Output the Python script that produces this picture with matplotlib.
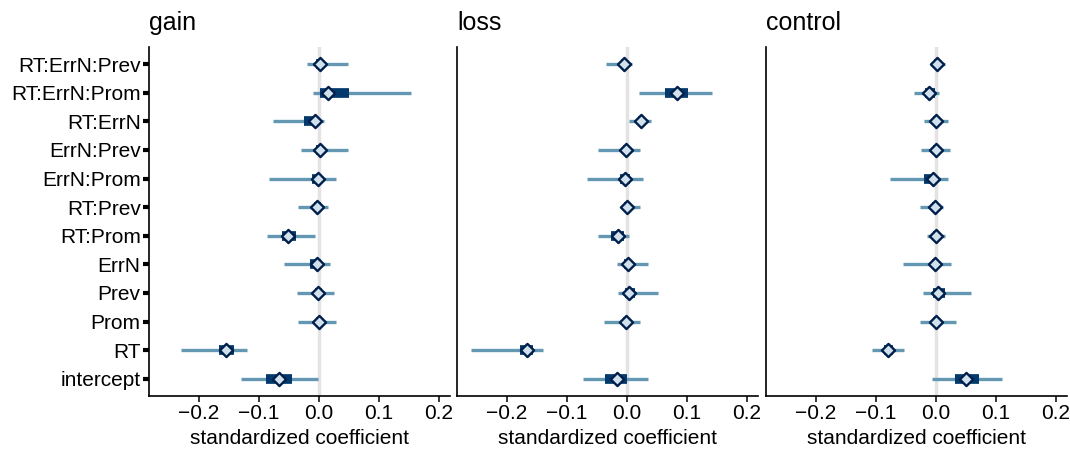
import numpy as np
import matplotlib.pyplot as plt

plt.rcParams['font.family'] = ['Liberation Sans', 'DejaVu Sans']

# parameters, bottom to top
params = ['intercept', 'RT', 'Prom', 'Prev', 'ErrN', 'RT:Prom', 'RT:Prev',
          'ErrN:Prom', 'ErrN:Prev', 'RT:ErrN', 'RT:ErrN:Prom', 'RT:ErrN:Prev']
panels = ['gain', 'loss', 'control']

# point estimates (median)
gain_est = [-0.067, -0.154, 0.001, -0.001, -0.003, -0.051, -0.003,
            -0.001, 0.002, -0.007, 0.015, 0.002]
loss_est = [-0.017, -0.167, -0.001, 0.003, 0.002, -0.015, 0.001,
            -0.003, -0.002, 0.023, 0.083, -0.005]
control_est = [0.050, -0.080, 0.000, 0.003, -0.002, 0.000, -0.001,
               -0.004, 0.001, 0.000, -0.011, 0.002]

# outer (90%) intervals
gain_lo = [-0.130, -0.229, -0.035, -0.037, -0.058, -0.087, -0.034,
           -0.083, -0.030, -0.076, -0.009, -0.019]
gain_hi = [-0.001, -0.119, 0.029, 0.025, 0.019, -0.007, 0.015,
           0.028, 0.048, 0.008, 0.154, 0.048]
loss_lo = [-0.073, -0.259, -0.038, -0.015, -0.017, -0.048, -0.010,
           -0.067, -0.048, 0.004, 0.020, -0.035]
loss_hi = [0.035, -0.140, 0.022, 0.052, 0.035, 0.004, 0.022,
           0.027, 0.022, 0.041, 0.142, 0.009]
control_lo = [-0.006, -0.106, -0.027, -0.021, -0.054, -0.015, -0.026,
              -0.077, -0.025, -0.020, -0.036, -0.007]
control_hi = [0.110, -0.053, 0.033, 0.059, 0.025, 0.015, 0.012,
              0.020, 0.023, 0.021, 0.005, 0.016]

# inner (50%) intervals
gain_ilo = [-0.088, -0.167, -0.005, -0.006, -0.015, -0.062, -0.008,
            -0.012, -0.004, -0.025, 0.002, -0.004]
gain_ihi = [-0.045, -0.141, 0.006, 0.005, 0.003, -0.038, 0.003,
            0.003, 0.007, -0.002, 0.051, 0.007]
loss_ilo = [-0.036, -0.178, -0.006, -0.003, -0.004, -0.026, -0.004,
            -0.011, -0.007, 0.018, 0.063, -0.010]
loss_ihi = [0.001, -0.157, 0.004, 0.014, 0.007, -0.005, 0.006,
            0.006, 0.003, 0.029, 0.102, 0.001]
control_ilo = [0.032, -0.086, -0.005, -0.004, -0.007, -0.005, -0.006,
               -0.019, -0.004, -0.005, -0.018, -0.003]
control_ihi = [0.072, -0.071, 0.005, 0.015, 0.003, 0.005, 0.004,
               -0.002, 0.005, 0.005, -0.002, 0.007]

data = {
    'gain': (gain_est, gain_lo, gain_hi, gain_ilo, gain_ihi),
    'loss': (loss_est, loss_lo, loss_hi, loss_ilo, loss_ihi),
    'control': (control_est, control_lo, control_hi, control_ilo, control_ihi),
}

mid = '#6497b1'
dark = '#03396c'
dark_hl = '#011f4b'
light = '#d1e1ec'

fig = plt.figure(figsize=(10.7, 4.54), dpi=100)
lefts = [0.1393, 0.4271, 0.7159]
y = np.arange(len(params))

for i, name in enumerate(panels):
    ax = fig.add_axes([lefts[i], 0.1278, 0.2810, 0.7687])
    est, lo, hi, ilo, ihi = data[name]
    ax.axvline(0, color='#e3e3e3', lw=2.5, zorder=0)
    ax.hlines(y, lo, hi, color=mid, lw=2.4, zorder=2)
    ax.hlines(y, ilo, ihi, color=dark, lw=7, zorder=3)
    ax.scatter(est, y, marker='D', s=45, facecolor=light, edgecolor=dark_hl,
               linewidths=1.7, zorder=4)
    ax.set_xlim(-0.283, 0.218)
    ax.set_ylim(-0.6, 11.6)
    ax.set_xticks([-0.2, -0.1, 0.0, 0.1, 0.2])
    ax.set_xticklabels(['\u22120.2', '\u22120.1', '0.0', '0.1', '0.2'])
    ax.set_xlabel('standardized coefficient', fontsize=15, labelpad=4)
    ax.set_title(name, loc='left', fontsize=18, pad=12)
    for s in ['top', 'right']:
        ax.spines[s].set_visible(False)
    for s in ['left', 'bottom']:
        ax.spines[s].set_linewidth(1.2)
    ax.tick_params(axis='x', labelsize=15, length=4, width=1.1, pad=2)
    if i == 0:
        ax.set_yticks(y)
        ax.set_yticklabels(params)
        ax.tick_params(axis='y', labelsize=15, length=4, width=3, pad=2)
    else:
        ax.set_yticks([])

fig.savefig('out.png', dpi=100)
